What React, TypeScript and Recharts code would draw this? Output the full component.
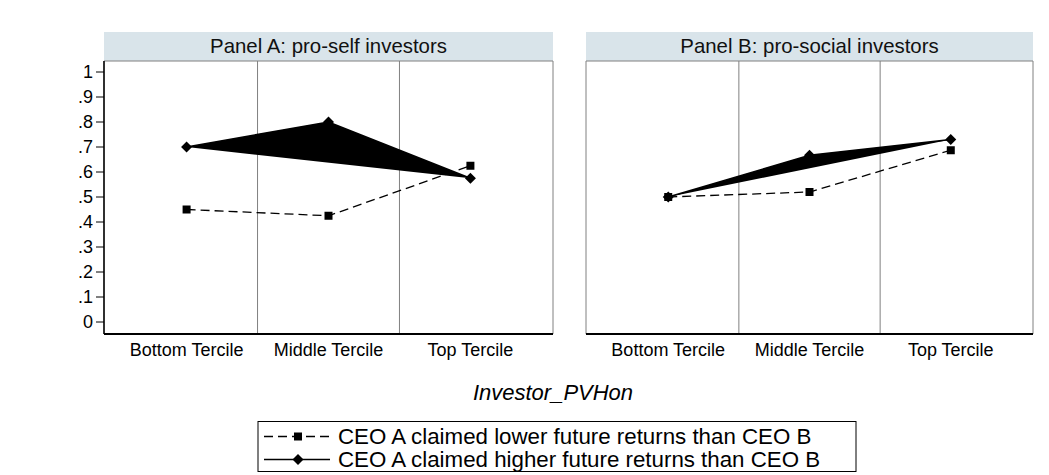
import { LineChart, Line, XAxis, YAxis, ReferenceLine, ReferenceArea } from 'recharts';

// categories along the x axis (same in both panels)
const categories = ['Bottom Tercile', 'Middle Tercile', 'Top Tercile'];
const panelTitles = ['Panel A: pro-self investors', 'Panel B: pro-social investors'];

// share of investors
const lowerA = [0.45, 0.425, 0.625];
const higherA = [0.7, 0.8, 0.575];
const lowerB = [0.5, 0.52, 0.687];
const higherB = [0.5, 0.667, 0.73];

const yTicks = [0, 0.1, 0.2, 0.3, 0.4, 0.5, 0.6, 0.7, 0.8, 0.9, 1];
const yTickLabels = ['0', '.1', '.2', '.3', '.4', '.5', '.6', '.7', '.8', '.9', '1'];
const seriesNames = [
  'CEO A claimed lower future returns than CEO B',
  'CEO A claimed higher future returns than CEO B',
];
const xTitle = 'Investor_PVHon';

// category positions are 1..3, separators sit halfway between them
const xTicks = [1, 2, 3];
const separators = [1.5, 2.5];
const xDomain = [0.418, 3.582];
const yDomain = [-0.048, 1.044];

const FONT = '"Liberation Sans", Arial, Helvetica, sans-serif';
const GRAY = '#808080';
const STRIP = '#d9e4ea';

const SquareDot = (props: any) => {
  const { cx, cy, index } = props;
  if (cx == null || cy == null) return null;
  return <rect key={`sq-${index}`} x={cx - 4} y={cy - 4} width={8} height={8} fill="#000" />;
};

const DiamondDot = (props: any) => {
  const { cx, cy, index } = props;
  if (cx == null || cy == null) return null;
  const r = 5.5;
  return (
    <polygon
      key={`di-${index}`}
      points={`${cx},${cy - r} ${cx + r},${cy} ${cx},${cy + r} ${cx - r},${cy}`}
      fill="#000"
    />
  );
};

interface PanelProps {
  title: string;
  lower: number[];
  higher: number[];
  showY: boolean;
  left: number;
  width: number;
  marginLeft: number;
  marginRight: number;
}

function Panel({ title, lower, higher, showY, left, width, marginLeft, marginRight }: PanelProps) {
  const data = categories.map((c, i) => ({ x: xTicks[i], name: c, lower: lower[i], higher: higher[i] }));
  const plotLeft = left + marginLeft + (showY ? 40 : 0);
  const plotWidth = width - marginLeft - marginRight - (showY ? 40 : 0);
  return (
    <>
      <div
        style={{
          position: 'absolute',
          left: plotLeft,
          top: 32,
          width: plotWidth,
          height: 29,
          background: STRIP,
          fontFamily: FONT,
          fontSize: 20.4,
          lineHeight: '29px',
          textAlign: 'center',
          color: '#111',
        }}
      >
        {title}
      </div>
      <div style={{ position: 'absolute', left, top: 0 }}>
        <LineChart
          width={width}
          height={365}
          data={data}
          margin={{ top: 61, right: marginRight, bottom: 1, left: marginLeft }}
        >
          <ReferenceArea
            x1={xDomain[0]}
            x2={xDomain[1]}
            y1={yDomain[0]}
            y2={yDomain[1]}
            fill="none"
            stroke={GRAY}
            strokeWidth={1}
          />
          {separators.map((s) => (
            <ReferenceLine key={s} x={s} stroke={GRAY} strokeWidth={1} />
          ))}
          <XAxis
            type="number"
            dataKey="x"
            domain={xDomain}
            ticks={xTicks}
            interval={0}
            allowDataOverflow
            tickFormatter={(v: number) => categories[v - 1]}
            tickLine={false}
            tickSize={6}
            tickMargin={3}
            height={30}
            axisLine={{ stroke: '#000', strokeWidth: 2 }}
            tick={{ fontSize: 18, fill: '#000', fontFamily: FONT }}
          />
          <YAxis
            type="number"
            domain={yDomain}
            ticks={yTicks}
            interval={0}
            allowDataOverflow
            hide={!showY}
            width={40}
            tickSize={8}
            tickMargin={3}
            tickFormatter={(v: number) => yTickLabels[yTicks.indexOf(v)] ?? ''}
            tickLine={{ stroke: '#000' }}
            axisLine={{ stroke: '#000', strokeWidth: 1.5 }}
            tick={{ fontSize: 18, fill: '#000', fontFamily: FONT }}
          />
          <Line
            dataKey="lower"
            stroke="#000"
            strokeWidth={1.3}
            strokeDasharray="9 5"
            dot={SquareDot}
            activeDot={false}
            isAnimationActive={false}
          />
          <Line
            className="wedge"
            dataKey="higher"
            stroke="#000"
            strokeWidth={1.5}
            dot={DiamondDot}
            activeDot={false}
            isAnimationActive={false}
          />
        </LineChart>
      </div>
    </>
  );
}

function LegendBox() {
  const boxLeft = 258;
  const boxRight = 856;
  const boxTop = 421.5;
  const rowBase = [444, 467];
  return (
    <svg
      width={1049}
      height={475}
      style={{ position: 'absolute', left: 0, top: 0, pointerEvents: 'none' }}
    >
      <text
        x={553}
        y={400}
        textAnchor="middle"
        fontFamily={FONT}
        fontSize={22}
        fontStyle="italic"
        fill="#000"
      >
        {xTitle}
      </text>
      <rect
        x={boxLeft}
        y={boxTop}
        width={boxRight - boxLeft}
        height={50}
        fill="#fff"
        stroke="#000"
        strokeWidth={1}
      />
      {seriesNames.map((name, i) => {
        const cy = rowBase[i] - 7.5;
        const mx = boxLeft + 40;
        return (
          <g key={name}>
            <line
              x1={boxLeft + 6}
              x2={boxLeft + 72}
              y1={cy}
              y2={cy}
              stroke="#000"
              strokeWidth={i === 0 ? 1.3 : 1.5}
              strokeDasharray={i === 0 ? '9 5' : undefined}
            />
            {i === 0 ? (
              <rect x={mx - 4} y={cy - 4} width={8} height={8} fill="#000" />
            ) : (
              <polygon
                points={`${mx},${cy - 5.5} ${mx + 5.5},${cy} ${mx},${cy + 5.5} ${mx - 5.5},${cy}`}
                fill="#000"
              />
            )}
            <text x={338} y={rowBase[i]} fontFamily={FONT} fontSize={22.3} fill="#000">
              {name}
            </text>
          </g>
        );
      })}
    </svg>
  );
}

export default function App() {
  return (
    <div
      style={{
        position: 'absolute',
        left: 0,
        top: 0,
        width: 1049,
        height: 475,
        background: '#fff',
        overflow: 'hidden',
      }}
    >
      <style>{`.wedge .recharts-line-curve { fill: #000; }`}</style>
      <Panel
        title={panelTitles[0]}
        lower={lowerA}
        higher={higherA}
        showY
        left={0}
        width={560}
        marginLeft={64}
        marginRight={7}
      />
      <Panel
        title={panelTitles[1]}
        lower={lowerB}
        higher={higherB}
        showY={false}
        left={520}
        width={529}
        marginLeft={66}
        marginRight={16}
      />
      <LegendBox />
    </div>
  );
}
